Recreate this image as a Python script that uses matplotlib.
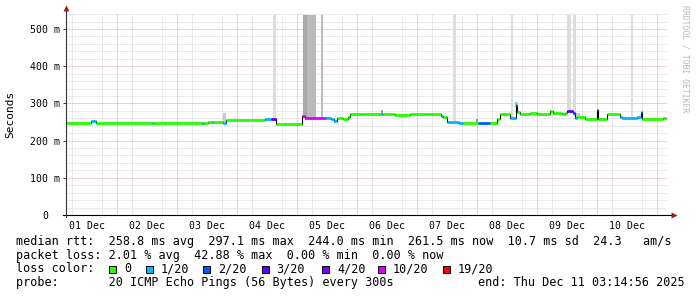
import matplotlib
matplotlib.use('Agg')
import matplotlib.pyplot as plt
from matplotlib.patches import Rectangle

plt.rcParams['font.family'] = ['DejaVu Sans Mono']

# 中位数 rtt 分段数据：开始时间（12月1日 0点起的天数），毫秒，丢包等级
t_start = [0.15, 0.567, 0.65, 1.583, 1.608, 2.417, 2.442, 2.517, 2.583, 2.608,
           2.767, 2.817, 3.467, 3.567, 3.65, 4.083, 4.133, 4.483, 4.567, 4.617,
           4.667, 4.767, 4.842, 4.883, 5.05, 5.383, 5.4, 5.433, 5.633, 5.883,
           6.217, 6.4, 6.433, 6.5, 6.7, 6.767, 7.017, 7.217, 7.333, 7.383,
           7.55, 7.65, 7.667, 7.717, 7.883, 8.0, 8.217, 8.267, 8.417, 8.467,
           8.5, 8.6, 8.633, 8.667, 8.8, 9.0, 9.017, 9.167, 9.383, 9.417,
           9.55, 9.667, 9.733, 9.75, 10.1]
median_ms = [246.5, 252, 248, 248, 248, 248, 248, 251, 251, 251,
             248, 255, 257, 258, 244, 265, 260, 260, 257, 253.5,
             261, 257, 264, 272, 270.5, 272, 272, 271, 270, 271.5,
             272, 266, 263, 249, 246, 247, 247, 247, 257, 270.6,
             261.5, 297, 276, 271.5, 275, 271.5, 280, 275, 271.5, 275,
             279, 273, 261.5, 264, 259, 282, 259, 270.6, 264, 260,
             262, 262.6, 276, 259, 261.5]
loss_idx = [0, 1, 0, 1, 0, 1, 0, 0, 1, 0,
            1, 0, 1, 3, 0, 5, 5, 1, 1, 1,
            0, 0, 0, 0, 0, 0, 1, 0, 0, 0,
            0, 1, 0, 1, 1, 0, 2, 0, 0, 0,
            1, 1, 0, 0, 0, 0, 0, 0, 0, 0,
            3, 2, 1, 0, 0, 2, 0, 0, 1, 1,
            1, 1, 1, 0, 0]
t_end = 10.15

# 烟雾（每次 ping 的分布）：开始，结束，下限，上限，灰度
smoke_t0 = [3.6, 4.095, 4.162, 4.395, 6.6, 7.562, 8.5, 8.595, 9.567,
            2.767, 5.4, 6.983, 7.633, 8.633, 9.733]
smoke_t1 = [3.65, 4.162, 4.317, 4.428, 6.65, 7.595, 8.562, 8.65, 9.6,
            2.817, 5.433, 7.017, 7.683, 8.717, 9.767]
smoke_lo = [257, 262, 260, 258, 247, 262, 279, 265, 262,
            249, 272, 247, 290, 262, 262]
smoke_hi = [537, 537, 537, 537, 537, 537, 537, 537, 537,
            274, 281, 257, 305, 273, 277]
smoke_col = ['#dddddd', '#a8a8a8', '#b9b9b9', '#bcbcbc', '#dddddd', '#dddddd',
             '#dddddd', '#dddddd', '#dddddd',
             '#c8c8c8', '#999999', '#999999', '#bbbbbb', '#c8c8c8', '#aaaaaa']

loss_names = ['0', '1/20', '2/20', '3/20', '4/20', '10/20', '19/20']
loss_colors = ['#26ff00', '#00b8ff', '#0059ff', '#5e00ff', '#7e00ff', '#dd00ff', '#ff0000']

day_labels = ['01 Dec', '02 Dec', '03 Dec', '04 Dec', '05 Dec',
              '06 Dec', '07 Dec', '08 Dec', '09 Dec', '10 Dec']
y_ticks = [0, 100, 200, 300, 400, 500]
y_labels = ['0', '100 m', '200 m', '300 m', '400 m', '500 m']

W, H = 697, 297


def fx(px):
    return px / W


def fy(py):
    return 1 - py / H


fig = plt.figure(figsize=(W / 100, H / 100), dpi=100)
ax = fig.add_axes([fx(66), fy(215), (667 - 66) / W, (215 - 13) / H])
ax.set_xlim(0.15, 10.167)
ax.set_ylim(0, 543)

# 网格
ax.set_axisbelow(True)
ax.set_yticks(y_ticks)
ax.set_yticklabels(y_labels)
ax.set_yticks([v for v in range(20, 541, 20) if v % 100], minor=True)
ax.set_xticks([d + 0.5 for d in range(10)])
ax.set_xticklabels(day_labels)
ax.set_xticks([q / 4 for q in range(1, 41) if q % 4], minor=True)
dots = (0, (1, 1))
ax.yaxis.grid(True, which='major', color='#e6a8a8', lw=0.72, ls=dots)
ax.yaxis.grid(True, which='minor', color='#d6d6d6', lw=0.72, ls=dots)
ax.xaxis.grid(True, which='minor', color='#d6d6d6', lw=0.72, ls=dots)
for d in range(1, 11):
    ax.axvline(d, color='#e6a8a8', lw=0.72, ls=dots, zorder=0.6)

ax.tick_params(axis='x', which='both', length=0, pad=4, labelsize=7.1)
ax.tick_params(axis='y', which='major', length=2.2, width=0.7, color='#333333',
               pad=13, labelsize=7.1)
ax.tick_params(axis='y', which='minor', length=0)
for lab in ax.get_yticklabels():
    lab.set_horizontalalignment('center')
for s in ax.spines.values():
    s.set_visible(False)

# 烟雾
ax.bar(smoke_t0, [h - l for h, l in zip(smoke_hi, smoke_lo)],
       width=[b - a for a, b in zip(smoke_t0, smoke_t1)], bottom=smoke_lo,
       align='edge', color=smoke_col, lw=0, zorder=2)

# 中位数线：先画黑色台阶，再按丢包颜色画水平段
ax.step(t_start + [t_end], median_ms + [median_ms[-1]], where='post',
        color='black', lw=0.8, zorder=3)
ax.hlines(median_ms, t_start, t_start[1:] + [t_end],
          colors=[loss_colors[i] for i in loss_idx], lw=2.0, zorder=4)

# 坐标轴和箭头
ax.plot([-0.005, 1.01], [0, 0], transform=ax.transAxes, color='black', lw=0.8,
        clip_on=False, zorder=5)
ax.plot([0, 0], [-0.012, 1.02], transform=ax.transAxes, color='#333333', lw=0.8,
        clip_on=False, zorder=5)
ax.plot([1.0115], [0], marker='>', ms=4.5, color='#9b1c1c', transform=ax.transAxes,
        clip_on=False, zorder=6, mec='none')
ax.plot([0], [1.0225], marker='^', ms=4.5, color='#9b1c1c', transform=ax.transAxes,
        clip_on=False, zorder=6, mec='none')

fig.text(fx(10), fy(114), 'Seconds', rotation=90, ha='center', va='center', fontsize=8)
fig.text(fx(685), fy(5), 'RRDTOOL / TOBI OETIKER', rotation=270, ha='center', va='top',
         fontsize=5.8, color='#b8b8b8')

# 图例文字
fs = 8.45
fig.text(fx(16), fy(245), 'median rtt:  258.8 ms avg  297.1 ms max  244.0 ms min  '
         '261.5 ms now  10.7 ms sd  24.3   am/s', fontsize=fs, va='baseline')
fig.text(fx(16), fy(258.7), 'packet loss: 2.01 % avg  42.88 % max  0.00 % min  0.00 % now',
         fontsize=fs, va='baseline')
fig.text(fx(16), fy(272.3), 'loss color:', fontsize=fs, va='baseline')
box_x = [109, 146, 203, 261.5, 322, 378, 442.5]
for bx, name, col in zip(box_x, loss_names, loss_colors):
    fig.patches.append(Rectangle((fx(bx), fy(273)), 7 / W, 7 / H,
                                 transform=fig.transFigure, facecolor=col,
                                 edgecolor='black', lw=0.7))
    fig.text(fx(bx + 15), fy(272.3), name, fontsize=fs, va='baseline')
fig.text(fx(16), fy(286), 'probe:       20 ICMP Echo Pings (56 Bytes) every 300s',
         fontsize=fs, va='baseline')
fig.text(fx(478), fy(286), 'end: Thu Dec 11 03:14:56 2025', fontsize=fs, va='baseline')

fig.savefig('out.png', dpi=100)
